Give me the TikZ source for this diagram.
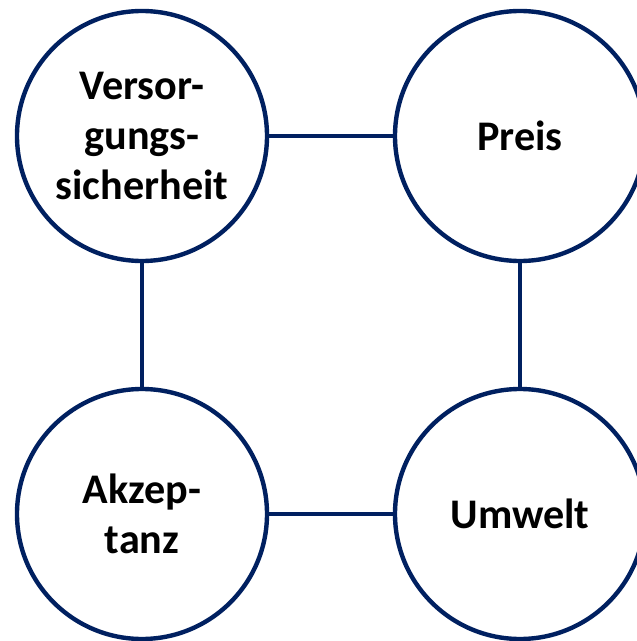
\documentclass[tikz,border=0pt]{standalone}
\usepackage{fontspec}
\setmainfont{Carlito}
\usepackage{tikz}
\usetikzlibrary{positioning}
\definecolor{navy}{RGB}{0,32,96}

\begin{document}
\begin{tikzpicture}[-,auto,node distance=7.56cm,on grid,line width=2.5pt,draw=navy,
goal/.style={circle,draw=navy,fill=white,minimum size=5cm,inner sep=0pt,
align=center,font=\bfseries\fontsize{24}{28.5}\selectfont}]
\useasboundingbox (0,0) rectangle (12.74,-12.82);
\node[goal] (V) at (2.84,-2.72) {Versor-\\gungs-\\sicherheit};
\node[goal] (P) [right=of V] {Preis};
\node[goal] (A) [below=of V] {Akzep-\\tanz};
\node[goal] (U) [right=of A] {Umwelt};
\path[draw=navy] (V) edge (P)
edge (A)
(P) edge (U)
(A) edge (U);
\end{tikzpicture}
\end{document}
